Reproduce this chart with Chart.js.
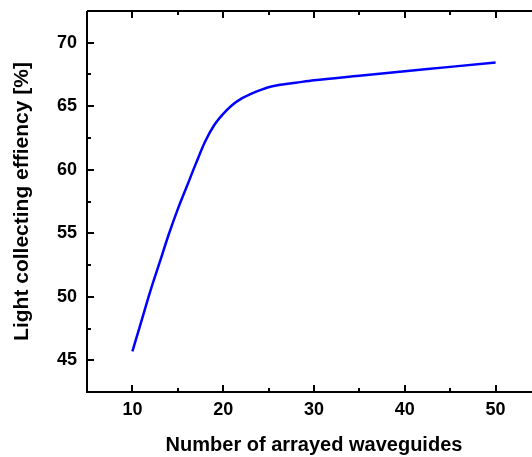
<!DOCTYPE html>
<html>
<head>
<meta charset="utf-8">
<script src="https://cdn.jsdelivr.net/npm/chart.js@4"></script>
<style>
html,body{margin:0;padding:0;background:#fff;overflow:hidden;}
#wrap{width:545px;height:457px;position:relative;}
</style>
</head>
<body>
<div id="wrap"><canvas id="c" width="545" height="457"></canvas></div>
<script>
const waveguides = [10, 11, 12, 13, 14, 15, 16, 17, 18, 19, 20, 21, 22, 23, 24, 25, 26, 28, 30, 35, 40, 45, 50];
const efficiency = [45.7, 48.1, 50.5, 52.7, 54.9, 56.9, 58.7, 60.5, 62.2, 63.5, 64.4, 65.1, 65.6, 65.95, 66.25, 66.5, 66.65, 66.85, 67.05, 67.4, 67.75, 68.1, 68.45];
const xMajorTicks = [10, 20, 30, 40, 50];
const yMajorTicks = [45, 50, 55, 60, 65, 70];
const xTitle = 'Number of arrayed waveguides';
const yTitle = 'Light collecting effiency [%]';

const FONT = "'Liberation Sans', Arial, sans-serif";

const framePlugin = {
  id: 'frame',
  afterDraw(chart) {
    const ctx = chart.ctx, a = chart.chartArea;
    const xs = chart.scales.x, ys = chart.scales.y;
    ctx.save();
    ctx.strokeStyle = '#000';
    ctx.lineWidth = 2;
    ctx.beginPath();
    ctx.moveTo(a.left, a.top); ctx.lineTo(a.right, a.top);
    ctx.moveTo(a.left, a.top); ctx.lineTo(a.left, a.bottom);
    ctx.moveTo(a.left - 1, a.bottom); ctx.lineTo(a.right, a.bottom);
    ctx.moveTo(a.right, a.top); ctx.lineTo(a.right, a.bottom);
    ctx.stroke();
    ctx.beginPath();
    for (let v = xs.min; v <= xs.max; v += 5) {
      const px = Math.round(xs.getPixelForValue(v));
      const len = (v % 10 === 0) ? 7 : 4;
      ctx.moveTo(px, a.bottom); ctx.lineTo(px, a.bottom - len);
      ctx.moveTo(px, a.top); ctx.lineTo(px, a.top + len);
    }
    for (let v = ys.min; v <= ys.max + 1e-9; v += 2.5) {
      const py = Math.round(ys.getPixelForValue(v));
      const len = (Math.abs(v % 5) < 1e-9) ? 7 : 4;
      ctx.moveTo(a.left, py); ctx.lineTo(a.left + len, py);
    }
    ctx.stroke();
    ctx.restore();
  }
};

new Chart(document.getElementById('c'), {
  type: 'line',
  data: {
    datasets: [{
      data: waveguides.map((x, i) => ({x: x, y: efficiency[i]})),
      borderColor: '#0000ff',
      borderWidth: 2.5,
      pointRadius: 0,
      fill: false,
      cubicInterpolationMode: 'monotone'
    }]
  },
  options: {
    responsive: false,
    animation: false,
    layout: {padding: {top: 11, right: 4, left: 0, bottom: 0}},
    plugins: {legend: {display: false}, tooltip: {enabled: false}},
    scales: {
      x: {
        type: 'linear', min: 5, max: 55,
        afterBuildTicks: s => { s.ticks = xMajorTicks.map(v => ({value: v})); },
        afterFit: s => { s.height = 65; s.paddingLeft = 0; s.paddingRight = 0; },
        grid: {display: false, drawTicks: false},
        border: {display: false},
        ticks: {color: '#000', padding: 7, font: {family: FONT, size: 18, weight: 'bold'}},
        title: {display: true, text: xTitle, color: '#000', padding: {top: 12, bottom: 0},
                font: {family: FONT, size: 20, weight: 'bold'}}
      },
      y: {
        type: 'linear', min: 42.5, max: 72.5,
        afterBuildTicks: s => { s.ticks = yMajorTicks.map(v => ({value: v})); },
        afterFit: s => { s.width = 87; s.paddingTop = 0; s.paddingBottom = 0; },
        grid: {display: false, drawTicks: false},
        border: {display: false},
        ticks: {color: '#000', padding: 10, font: {family: FONT, size: 18, weight: 'bold'}},
        title: {display: true, text: yTitle, color: '#000', padding: {top: 10, bottom: 0},
                font: {family: FONT, size: 21, weight: 'bold'}}
      }
    }
  },
  plugins: [framePlugin]
});
</script>
</body>
</html>
